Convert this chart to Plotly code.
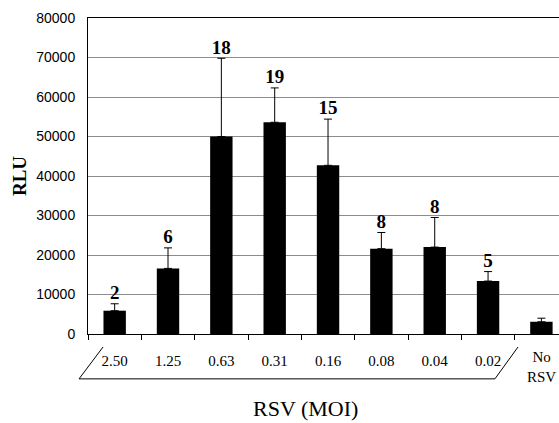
import plotly.graph_objects as go

categories = ["2.50", "1.25", "0.63", "0.31", "0.16", "0.08", "0.04", "0.02", "No RSV"]
tick_text = ["2.50", "1.25", "0.63", "0.31", "0.16", "0.08", "0.04", "0.02", ""]
rlu = [5900, 16600, 50000, 53600, 42700, 21600, 22000, 13400, 3100]
err_upper = [1750, 5200, 19800, 8700, 11700, 4100, 7500, 2400, 900]
n_labels = ["2", "6", "18", "19", "15", "8", "8", "5", ""]

serif = "Liberation Serif"
sans = "Liberation Sans"

fig = go.Figure()
fig.add_trace(go.Bar(
    x=categories, y=rlu, width=0.42,
    marker=dict(color="black", line=dict(width=0)),
    error_y=dict(type="data", symmetric=False, array=err_upper,
                 arrayminus=[0] * len(rlu), color="black", thickness=1, width=4),
    showlegend=False,
))
fig.add_trace(go.Scatter(
    x=categories, y=[v + e for v, e in zip(rlu, err_upper)],
    mode="text", text=[f"<b>{t}</b>" if t else "" for t in n_labels],
    textposition="top center",
    textfont=dict(family=serif, size=19, color="black"),
    showlegend=False, cliponaxis=False,
))

fig.update_layout(
    width=559, height=423,
    margin=dict(l=88, r=0, t=18, b=89),
    paper_bgcolor="white", plot_bgcolor="white",
    xaxis=dict(
        type="category", range=[-0.5, 8.33],
        tickmode="array", tickvals=categories, ticktext=tick_text,
        tickson="boundaries", ticks="outside", ticklen=5, tickcolor="black",
        ticklabelstandoff=13,
        showline=True, linecolor="black", linewidth=1, mirror=True,
        showgrid=False,
        tickfont=dict(family=serif, size=15, color="black"),
    ),
    yaxis=dict(
        range=[0, 80000], tickmode="linear", tick0=0, dtick=10000, tickformat="d",
        showline=True, linecolor="black", linewidth=1,
        showgrid=True, gridcolor="#8c8c8c", gridwidth=1,
        zeroline=False,
        ticks="outside", ticklen=9, tickcolor="rgba(0,0,0,0)",
        tickfont=dict(family=sans, size=14, color="black"),
        title=dict(text="<b>RLU</b>", font=dict(family=serif, size=19, color="black"), standoff=4),
    ),
)

fig.add_annotation(x="No RSV", y=-0.04, xref="x", yref="paper", yanchor="top",
                   text="No<br>RSV", showarrow=False,
                   font=dict(family=serif, size=15, color="black"))
fig.add_annotation(x=0.461, y=-0.19, xref="paper", yref="paper", yanchor="top",
                   text="RSV (MOI)", showarrow=False,
                   font=dict(family=serif, size=22, color="black"))

# bracket grouping the MOI categories
line = dict(color="black", width=1)
fig.add_shape(type="line", xref="paper", yref="paper", x0=-0.019, y0=-0.142, x1=0.032, y1=-0.041, line=line)
fig.add_shape(type="line", xref="paper", yref="paper", x0=-0.019, y0=-0.142, x1=0.864, y1=-0.142, line=line)
fig.add_shape(type="line", xref="paper", yref="paper", x0=0.864, y0=-0.142, x1=0.913, y1=-0.041, line=line)

fig.write_html("out.html")
